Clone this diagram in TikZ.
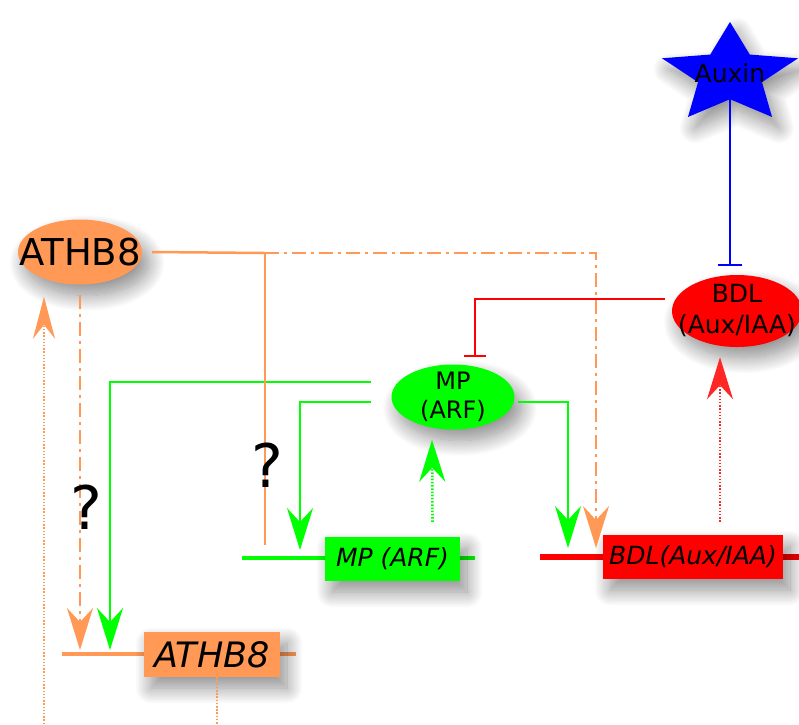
\documentclass[tikz,border=0pt]{standalone}
\usepackage{fontspec}
\setmainfont{DejaVu Sans}[ItalicFont={DejaVu Sans Oblique}]
\usetikzlibrary{shapes.geometric,arrows.meta,calc,shadows.blur}
\definecolor{orng}{RGB}{255,153,85}
\definecolor{grn}{RGB}{0,255,0}
\definecolor{rd}{RGB}{255,0,0}
\definecolor{bl}{RGB}{0,0,255}
\tikzset{
  shd/.style={blur shadow={shadow xshift=7pt,shadow yshift=-11pt,shadow blur radius=16pt,shadow blur steps=20,shadow opacity=45}},
  elnode/.style={ellipse, inner sep=0pt, shd},
  genebox/.style={rectangle, inner sep=0pt, shd, font=\fontsize{25}{30}\selectfont\itshape},
  bigtip/.tip={Stealth[length=42pt,width=26pt,inset=14pt]},
  oline/.style={orng, line width=2.5pt},
  gline/.style={grn, line width=2.5pt},
  dashdot/.style={dash pattern=on 14pt off 5pt on 3pt off 5pt},
  dots/.style={line width=2.6pt, dash pattern=on 1.5pt off 1.7pt},
  qmark/.style={font=\fontsize{60}{60}\selectfont, inner sep=0pt}
}
\begin{document}
\begin{tikzpicture}[x=1pt,y=-1pt]
\useasboundingbox (0,0) rectangle (799,724);

% coordinates of gene lines and free ends
\coordinate (athL) at (62,654);
\coordinate (athR) at (296,654);
\coordinate (mpL) at (242,558);
\coordinate (mpR) at (475,558);
\coordinate (bdlL) at (540,557);
\coordinate (bdlR) at (799,557);
\coordinate (jn) at (265,253);
\coordinate (bot1) at (44,724);
\coordinate (bot2) at (217,724);

% gene lines
\draw[orng, line width=3.5pt] (athL) -- (athR);
\draw[grn, line width=4pt] (mpL) -- (mpR);
\draw[rd, line width=6pt] (bdlL) -- (bdlR);

% protein ellipses
\node[elnode, fill=orng, minimum width=124pt, minimum height=65pt,
      label={[font=\fontsize{37}{40}\selectfont]center:ATHB8}] (athE) at (80,252) {};
\node[elnode, fill=grn, minimum width=123pt, minimum height=65pt,
      label={[font=\fontsize{24}{29}\selectfont, align=center]center:MP\\(ARF)}] (mpE) at (453,397) {};
\node[elnode, fill=rd, minimum width=130pt, minimum height=72pt,
      label={[font=\fontsize{25}{31}\selectfont, align=center]center:BDL\\(Aux/IAA)}] (bdl) at (737,311) {};

% auxin star
\begin{scope}[shift={(730,74.5)},x=71.5pt,y=52.5pt]
\fill[bl,shd] (90:1) -- (126:0.47) -- (162:1) -- (198:0.47) -- (234:1) -- (270:0.47)
  -- (306:1) -- (342:0.47) -- (18:1) -- (54:0.47) -- cycle;
\end{scope}
\node[font=\fontsize{25}{30}\selectfont, inner sep=0pt] (aux) at (730,73) {Auxin};

% gene boxes
\node[genebox, fill=orng, minimum width=136pt, minimum height=45pt,
      font=\fontsize{35}{40}\selectfont\itshape] (athG) at (212,654.5) {ATHB8};
\node[genebox, fill=grn, minimum width=135pt, minimum height=44pt] (mpG) at (392.5,559) {MP (ARF)};
\node[genebox, fill=rd, minimum width=180pt, minimum height=44pt] (bdlG) at (693,557) {BDL(Aux/IAA)};

% auxin inhibits BDL
\draw[bl, line width=2pt, -{Bar[width=24pt]}] (aux.south) -- ($(bdl.north)+(-7,-9)$);
% BDL inhibits MP
\draw[rd, line width=2.5pt, -{Bar[width=22pt]}] ($(bdl.west)+(-7,-12)$) -| ($(mpE.north)+(22,-7)$);

% MP activates genes
\draw[gline, -bigtip] ($(mpE.west)+(-20,-15)$) -| ($(athL)+(48,-4)$);
\draw[gline, -bigtip] ($(mpE.west)+(-20,5)$) -| ($(mpL)+(58,-8)$);
\draw[gline, -bigtip] ($(mpE.east)+(3,5)$) -| ($(bdlL)+(28,-9)$);

% ATHB8 protein connections
\draw[oline] ($(athE.east)+(10,0)$) -- (jn);
\draw[oline] (jn) -- ($(mpL)+(23,-13)$);
\draw[oline, dashdot, -bigtip] (jn) -| ($(bdlL)+(56,-9)$);
\draw[oline, dashdot, -bigtip] ($(athE.south)+(0,10)$) -- ($(athL)+(18,-4)$);

% translation (dotted)
\draw[orng, dots, -{Stealth[length=42pt,width=22pt,inset=14pt]}] (bot1) -- ($(athE.south)+(-36,12)$);
\draw[orng, dots] ($(athG.south)+(5,0)$) -- (bot2);
\draw[grn, dots, -bigtip] ($(mpG.north)+(40,-15)$) -- ($(mpE.south)+(-21,10)$);
\draw[rd!85!white, dots, -bigtip] ($(bdlG.north)+(27,-13)$) -- ($(bdl.south)+(-17,10)$);

% question marks
\node[qmark] (q1) at (86,507) {?};
\node[qmark] (q2) at (267,465) {?};
\end{tikzpicture}
\end{document}
